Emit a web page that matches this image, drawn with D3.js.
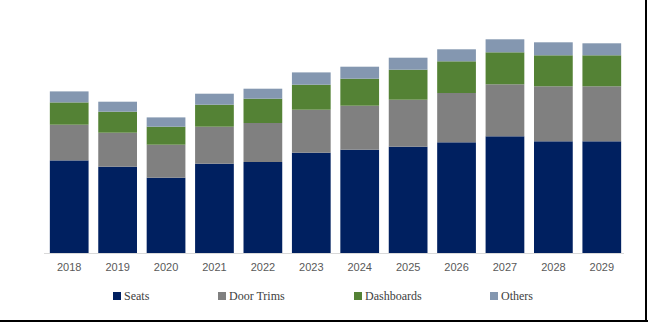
<!DOCTYPE html>
<html>
<head>
<meta charset="utf-8">
<script src="https://cdn.jsdelivr.net/npm/d3@7"></script>
<style>
  body { margin: 0; background: #fff; }
  #chart { width: 648px; height: 322px; }
</style>
</head>
<body>
<div id="chart"></div>
<script>
const years = ["2018", "2019", "2020", "2021", "2022", "2023", "2024", "2025", "2026", "2027", "2028", "2029"];
const seats = [92.6, 86.3, 75.3, 89.3, 91.0, 100.3, 103.3, 106.3, 110.7, 116.7, 111.7, 111.7];
const doorTrims = [35.7, 34.0, 33.0, 37.0, 39.0, 43.0, 44.0, 47.0, 49.3, 52.0, 55.0, 55.0];
const dashboards = [22.3, 21.0, 18.0, 22.0, 24.3, 25.0, 27.0, 30.0, 31.7, 32.0, 31.0, 31.0];
const others = [11.0, 10.0, 9.3, 11.0, 10.0, 12.3, 12.0, 12.0, 12.0, 13.0, 13.0, 12.0];

const seriesNames = ["Seats", "Door Trims", "Dashboards", "Others"];
const seriesValues = [seats, doorTrims, dashboards, others];
const colors = ["#002060", "#808080", "#548235", "#8497b0"];

const width = 648, height = 322;

// one row per year, keyed by series name, for d3.stack
const rows = years.map((y, i) => {
    const r = { year: y };
    seriesNames.forEach((s, k) => r[s] = seriesValues[k][i]);
    return r;
});

const svg = d3.select("#chart")
    .append("svg")
    .attr("width", width)
    .attr("height", height);

const x = d3.scaleBand()
    .domain(years)
    .range([45, 626])
    .paddingInner(0.2)
    .paddingOuter(0.1);

const y = d3.scaleLinear()
    .domain([0, 230])
    .range([253, 23]);

const color = d3.scaleOrdinal().domain(seriesNames).range(colors);

const stacked = d3.stack().keys(seriesNames)(rows);

svg.append("g")
    .selectAll("g")
    .data(stacked)
    .join("g")
    .attr("fill", d => color(d.key))
    .selectAll("rect")
    .data(d => d)
    .join("rect")
    .attr("x", d => x(d.data.year))
    .attr("width", x.bandwidth())
    .attr("y", d => y(d[1]))
    .attr("height", d => y(d[0]) - y(d[1]));

// x axis: thin light baseline, no ticks
const axis = svg.append("g")
    .attr("transform", `translate(0,${y(0)})`)
    .call(d3.axisBottom(x).tickSize(0).tickPadding(10));
axis.select(".domain").attr("stroke", "#d9d9d9").attr("d", "M44,0.5H624");
axis.selectAll("text")
    .attr("font-family", "Liberation Sans, Arial, sans-serif")
    .attr("font-size", 11)
    .attr("fill", "#595959");

// legend
const legendX = [113, 218, 354, 490];
const legend = svg.append("g").selectAll("g")
    .data(seriesNames)
    .join("g")
    .attr("transform", (d, i) => `translate(${legendX[i]},292)`);
legend.append("rect")
    .attr("width", 8)
    .attr("height", 8)
    .attr("fill", d => color(d));
legend.append("text")
    .attr("x", 11)
    .attr("y", 8)
    .attr("font-family", "Liberation Serif, Times New Roman, serif")
    .attr("font-size", 12)
    .attr("fill", "#404040")
    .text(d => d);

// frame edges on the right and bottom
svg.append("line").attr("x1", 646).attr("x2", 646).attr("y1", 0).attr("y2", 322)
    .attr("stroke", "#000").attr("stroke-width", 2);
svg.append("line").attr("x1", 0).attr("x2", 648).attr("y1", 321).attr("y2", 321)
    .attr("stroke", "#000").attr("stroke-width", 2);
</script>
</body>
</html>
